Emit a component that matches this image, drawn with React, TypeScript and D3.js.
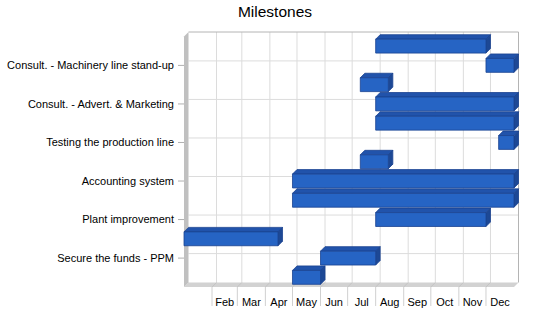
import React from "react";
import * as d3 from "d3";

// Rows listed from top to bottom; empty label = category whose label is not drawn
const rowLabels = [
  "", "Consult. - Machinery line stand-up", "", "Consult. - Advert. & Marketing", "",
  "Testing the production line", "", "Accounting system", "", "Plant improvement", "",
  "Secure the funds - PPM", "",
];
const startDates = [
  "2003-08-01", "2003-12-01", "2003-07-15", "2003-08-01", "2003-08-01",
  "2003-12-15", "2003-07-15", "2003-05-01", "2003-05-01", "2003-08-01",
  "2003-01-01", "2003-06-01", "2003-05-01",
];
const endDates = [
  "2003-12-01", "2004-01-01", "2003-08-15", "2004-01-01", "2004-01-01",
  "2004-01-01", "2003-08-15", "2004-01-01", "2004-01-01", "2003-12-01",
  "2003-04-15", "2003-08-01", "2003-06-01",
];
const monthLabels = ["", "Feb", "Mar", "Apr", "May", "Jun", "Jul", "Aug", "Sep", "Oct", "Nov", "Dec"];
const yearStart = "2003-01-01";
const yearEnd = "2004-01-01";

const W = 550, H = 318;
const DX = 4.5, DY = 4.5;
const left = 184, right = 514, top = 36.5, bottom = 287;
const FONT = "'Liberation Sans', Arial, sans-serif";

export default function App() {
  const parse = (s: string) => new Date(s + "T00:00:00Z");
  const x = d3.scaleUtc().domain([parse(yearStart), parse(yearEnd)]).range([left, right]);
  const ids = rowLabels.map((_, i) => String(i));
  const y = d3.scaleBand<string>().domain(ids).range([top, bottom]).paddingInner(0.28).paddingOuter(0.14);
  const months = d3.utcMonth.range(parse(yearStart), parse(yearEnd));
  const bw = y.bandwidth();

  const frontColor = "#2664c4";
  const topColor = "#2153ab";
  const sideColor = "#1d4895";
  const edge = "#1a4290";

  return (
    <svg width={W} height={H} style={{ position: "absolute", left: 0, top: 0, background: "#fff" }}>
      <text x={275} y={17} textAnchor="middle" fontFamily={FONT} fontSize={15.5} fill="#000">Milestones</text>

      {/* back wall */}
      <rect x={left + DX} y={top - DY} width={right - left} height={bottom - top} fill="#fff" />
      {months.slice(1).map((m, i) => (
        <line key={"vg" + i} x1={x(m) + DX} x2={x(m) + DX} y1={top - DY} y2={bottom - DY} stroke="#dcdcdc" strokeWidth={1} />
      ))}
      {ids.filter((id) => rowLabels[+id] !== "").map((id) => {
        const cy = (y(id) as number) + bw / 2 - DY;
        return <line key={"hg" + id} x1={left + DX} x2={right + DX} y1={cy} y2={cy} stroke="#dcdcdc" strokeWidth={1} />;
      })}
      <line x1={left + DX} x2={right + DX} y1={top - DY} y2={top - DY} stroke="#b4b4b4" />
      <line x1={right + DX} x2={right + DX} y1={top - DY} y2={bottom - DY} stroke="#b4b4b4" />

      {/* floor */}
      <polygon points={`${left},${bottom} ${left + DX},${bottom - DY} ${right + DX},${bottom - DY} ${right},${bottom}`} fill="#d2d2d2" />
      {months.slice(1).map((m, i) => (
        <line key={"fg" + i} x1={x(m)} x2={x(m) + DX} y1={bottom} y2={bottom - DY} stroke="#c4c4c4" />
      ))}
      {/* left wall */}
      <polygon points={`${left},${top} ${left + DX},${top - DY} ${left + DX},${bottom - DY} ${left},${bottom}`} fill="#c0c0c0" />

      {/* bars, top row first */}
      {ids.map((id, i) => {
        const x0 = x(parse(startDates[i]));
        const x1 = x(parse(endDates[i]));
        const y0 = y(id) as number;
        const y1 = y0 + bw;
        return (
          <g key={"b" + i} stroke={edge} strokeWidth={0.8} strokeLinejoin="round">
            <polygon points={`${x0},${y0} ${x0 + DX},${y0 - DY} ${x1 + DX},${y0 - DY} ${x1},${y0}`} fill={topColor} />
            <polygon points={`${x1},${y0} ${x1 + DX},${y0 - DY} ${x1 + DX},${y1 - DY} ${x1},${y1}`} fill={sideColor} />
            <rect x={x0} y={y0} width={x1 - x0} height={bw} fill={frontColor} />
          </g>
        );
      })}

      {/* y axis ticks and labels */}
      {ids.filter((id) => rowLabels[+id] !== "").map((id) => {
        const cy = (y(id) as number) + bw / 2;
        return (
          <g key={"yl" + id}>
            <line x1={178} x2={left} y1={cy} y2={cy} stroke="#b0b0b0" />
            <text x={174} y={cy} dy="0.35em" textAnchor="end" fontFamily={FONT} fontSize={11} fill="#000">{rowLabels[+id]}</text>
          </g>
        );
      })}

      {/* x axis separators and labels */}
      {months.slice(1).map((m, i) => (
        <line key={"xt" + i} x1={x(m)} x2={x(m)} y1={bottom} y2={306} stroke="#d0d0d0" />
      ))}
      {months.map((m, i) => {
        const next = d3.utcMonth.offset(m, 1);
        const cx = (x(m) + x(next)) / 2;
        return monthLabels[i] ? (
          <text key={"xl" + i} x={cx} y={306} textAnchor="middle" fontFamily={FONT} fontSize={11} fill="#000">{monthLabels[i]}</text>
        ) : null;
      })}
    </svg>
  );
}
